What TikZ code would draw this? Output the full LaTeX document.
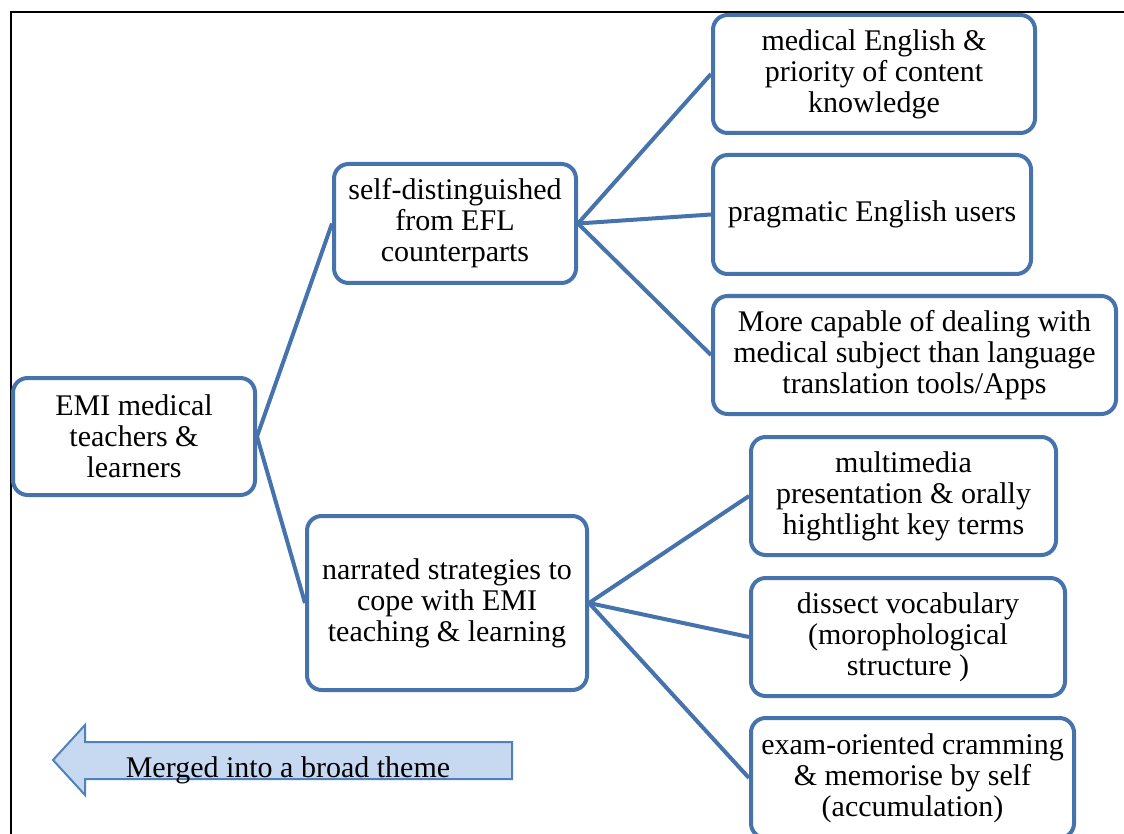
\documentclass[tikz,border=0pt]{standalone}
\usepackage{fontspec}
\setmainfont{Liberation Serif}
\definecolor{boxblue}{RGB}{70,115,172}
\definecolor{arrowfill}{RGB}{198,217,241}
\definecolor{arrowline}{RGB}{79,129,189}
\tikzset{
  labelfont/.style={font=\fontsize{22.5}{23.25}\selectfont},
  topic/.style={draw=boxblue, line width=3pt, rounded corners=11pt, align=center,
    inner sep=0pt, labelfont},
  link/.style={draw=boxblue, line width=3pt},
}
\begin{document}
\begin{tikzpicture}[x=0.75pt, y=-0.75pt]
  \useasboundingbox (0,0) rectangle (1124,834);
  \clip (0,0) rectangle (1124,834);
  % outer frame
  \draw[line width=1.5pt] (11,834) -- (11,12) -- (1124,12);

  % root and branches
  \node[topic, minimum width=181.5pt, minimum height=87.75pt] (root) at (134,436.5)
    {EMI medical\\teachers \&\\learners};
  \node[topic, minimum width=181.5pt, minimum height=89.25pt] (self) at (455,223.5)
    {self-distinguished\\from EFL\\counterparts};
  \node[topic, minimum width=210pt, minimum height=130.5pt] (narr) at (447,603)
    {narrated strategies to\\cope with EMI\\teaching \& learning};

  % leaves of the first branch
  \node[topic, minimum width=241.5pt, minimum height=88.5pt] (med) at (874,74)
    {medical English \&\\priority of content\\knowledge};
  \node[topic, minimum width=238.5pt, minimum height=89.25pt] (prag) at (872,214.5)
    {pragmatic English users};
  \node[topic, minimum width=302.25pt, minimum height=88.5pt] (capa) at (914.5,355)
    {More capable of dealing with\\medical subject than language\\translation tools/Apps};

  % leaves of the second branch
  \node[topic, minimum width=228.75pt, minimum height=88.5pt] (multi) at (903.5,496)
    {multimedia\\presentation \& orally\\hightlight key terms};
  \node[topic, minimum width=235.5pt, minimum height=88.5pt] (vocab) at (908,637)
    {dissect vocabulary\\(morophological\\structure )};
  \node[topic, minimum width=242.25pt, minimum height=90pt] (exam) at (912.5,778)
    {exam-oriented cramming\\\& memorise by self\\(accumulation)};

  % connectors
  \draw[link] (root.east) -- (self.west);
  \draw[link] (root.east) -- (narr.west);
  \draw[link] (self.east) -- (med.west);
  \draw[link] (self.east) -- (prag.west);
  \draw[link] (self.east) -- (capa.west);
  \draw[link] (narr.east) -- (multi.west);
  \draw[link] (narr.east) -- (vocab.west);
  \draw[link] (narr.east) -- (exam.west);

  % block arrow
  \draw[draw=arrowline, fill=arrowfill, line width=1.5pt, line join=miter]
    (53,760) -- (85,725) -- (85,742) -- (512,742) -- (512,779) -- (85,779) -- (85,795) -- cycle;
  \node[anchor=base, inner sep=0pt, labelfont] (merge) at (288,777)
    {Merged into a broad theme};
\end{tikzpicture}
\end{document}
